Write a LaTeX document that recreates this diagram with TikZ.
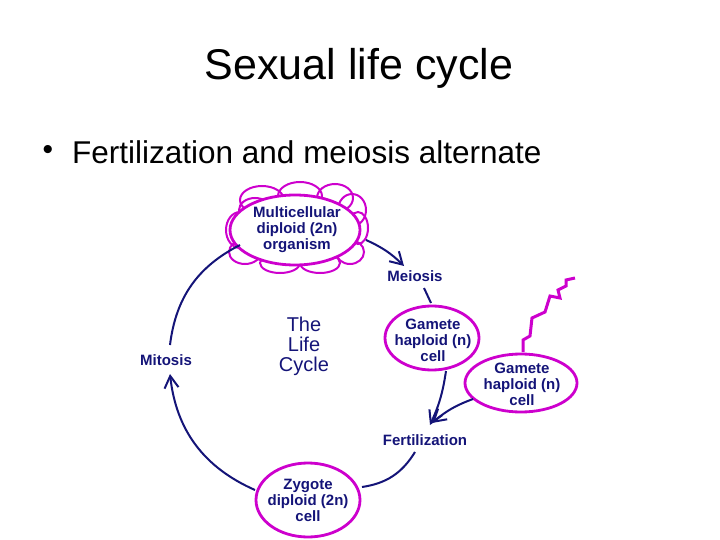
\documentclass[tikz,border=0pt]{standalone}
\usepackage{fontspec}
\setmainfont{Liberation Sans}
\usetikzlibrary{arrows.meta}
\definecolor{nv}{RGB}{20,20,120}
\definecolor{mg}{RGB}{205,0,205}
\begin{document}
\begin{tikzpicture}[x=1pt,y=-1pt,
  lbl/.style={text=nv,font=\bfseries\fontsize{15}{16}\selectfont,align=center,inner sep=0pt},
  arr/.style={draw=nv,line width=2pt,-{Straight Barb[length=12pt,width=14pt,line width=2pt]}},
  ln/.style={draw=nv,line width=2pt},
  mgl/.style={draw=mg,line width=2.8pt}]
\useasboundingbox (0,0) rectangle (720,540);
\node (title) at (359,68) {\fontsize{43}{43}\selectfont Sexual life cycle};
\node (dot) at (48,152) {\fontsize{30}{30}\selectfont •};
\node[anchor=west,inner sep=0pt] (bul) at (72,152) {\fontsize{31.5}{32}\selectfont Fertilization and meiosis alternate};
% cloud bumps
\foreach \x/\y/\rx/\ry in {262/200/22/14,300/196/22/14,335/198/18/14,352/210/14/16,358/228/10/16,350/252/14/12,320/263/20/10,280/263/20/10,245/252/16/12,240/230/14/18,255/210/16/12}
  \draw[mg,line width=2pt] (\x,\y) ellipse [x radius=\rx,y radius=\ry];
\fill[white] (295,230) ellipse [x radius=65,y radius=35];
\draw[mgl] (295,230) ellipse [x radius=65,y radius=35];
\node[lbl] (multi) at (297,230) {Multicellular\\diploid (2n)\\organism};
\node[lbl] (meiosis) at (415,276) {Meiosis};
\draw[mgl] (432,338) ellipse [x radius=47,y radius=32];
\node[lbl] (gam1) at (433,340) {Gamete\\haploid (n)\\cell};
\draw[mgl] (521,383) ellipse [x radius=56,y radius=29];
\node[lbl] (gam2) at (522,384) {Gamete\\haploid (n)\\cell};
\node[lbl] (fert) at (425,440) {Fertilization};
\draw[mgl] (308,500) ellipse [x radius=52,y radius=37];
\node[lbl] (zyg) at (308,500) {Zygote\\diploid (2n)\\cell};
\node[lbl] (mit) at (166,360) {Mitosis};
\node[text=nv,font=\fontsize{20}{20}\selectfont,align=center] (life) at (304,346) {The\\Life\\Cycle};
\coordinate (lz) at (575,278);
\draw[mg,line width=3pt] (523,352) -- (523,340) -- (530,336) -- (532,318) -- (545,312) -- (550,296) -- (560,298) -- (558,290) -- (566,286) -- (566,280) -- (lz);
\draw[arr] (366,240) to[bend left=10] (404,266);
\draw[ln] (424,288) -- (431,303);
\draw[arr] (446,371) to[bend left=8] (430,425);
\draw[arr] (473,399) to[bend right=10] (432,423);
\draw[ln] (415,452) to[bend left=25] (362,487);
\draw[arr] (255,490) to[bend left=30] (170,374);
\draw[ln] (170,345) to[bend left=28] (240,245);
\end{tikzpicture}
\end{document}
